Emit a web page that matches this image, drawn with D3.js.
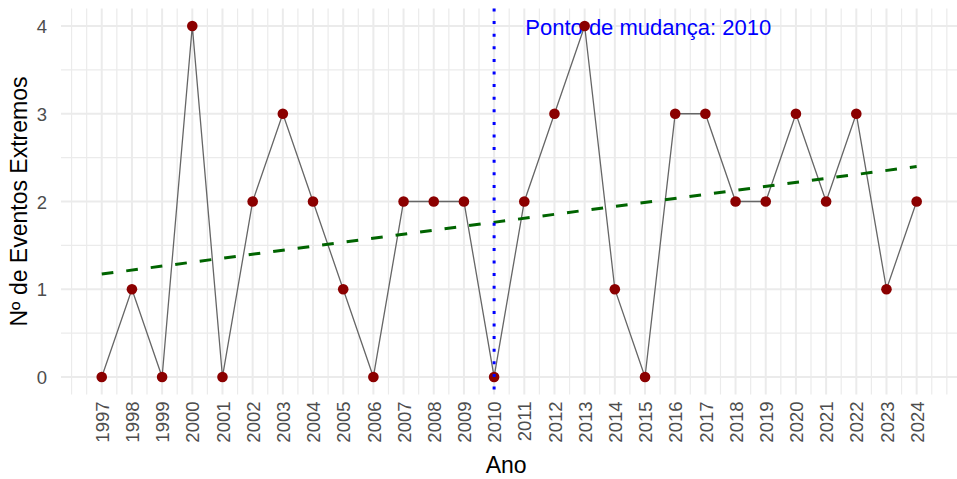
<!DOCTYPE html>
<html>
<head>
<meta charset="utf-8">
<script src="https://cdn.jsdelivr.net/npm/d3@7"></script>
<style>
  body { margin: 0; background: #fff; }
  svg { display: block; font-family: "Liberation Sans", Arial, sans-serif; }
</style>
</head>
<body>
<div id="chart"></div>
<script>
// data
var years = [1997, 1998, 1999, 2000, 2001, 2002, 2003, 2004, 2005, 2006, 2007, 2008, 2009, 2010,
             2011, 2012, 2013, 2014, 2015, 2016, 2017, 2018, 2019, 2020, 2021, 2022, 2023, 2024];
var events = [0, 1, 0, 4, 0, 2, 3, 2, 1, 0, 2, 2, 2, 0,
              2, 3, 4, 1, 0, 3, 3, 2, 2, 3, 2, 3, 1, 2];
var yTicks = [0, 1, 2, 3, 4];
var changeYear = 2010;
var changeLabel = "Ponto de mudança: 2010";

var width = 957, height = 479;

var data = years.map(function (y, i) { return { year: y, value: events[i] }; });

// ggplot-like 5% expansion
var xr = d3.extent(years), xpad = (xr[1] - xr[0]) * 0.05;
var x = d3.scaleLinear()
    .domain([xr[0] - xpad, xr[1] + xpad])
    .range([61, 957.4]);

var y = d3.scaleLinear()
    .domain([-0.2, 4.2])
    .range([394.5, 8.5]);

var svg = d3.select("#chart")
    .append("svg")
    .attr("width", width)
    .attr("height", height);

// grid: minor every half year / half unit, major at ticks
var xMinor = d3.range(Math.ceil(x.domain()[0] * 2) / 2, x.domain()[1], 0.5)
    .filter(function (v) { return !years.includes(v); });
var yMinor = [0.5, 1.5, 2.5, 3.5];

var grid = svg.append("g");
grid.selectAll(".vminor")
    .data(xMinor)
    .enter().append("line")
    .attr("x1", function (d) { return x(d); })
    .attr("x2", function (d) { return x(d); })
    .attr("y1", y.range()[1]).attr("y2", y.range()[0])
    .style("stroke", "#ebebeb").style("stroke-width", 1.2);
grid.selectAll(".hminor")
    .data(yMinor)
    .enter().append("line")
    .attr("x1", x.range()[0]).attr("x2", x.range()[1])
    .attr("y1", function (d) { return y(d); })
    .attr("y2", function (d) { return y(d); })
    .style("stroke", "#ebebeb").style("stroke-width", 1.2);
grid.selectAll(".vmajor")
    .data(years)
    .enter().append("line")
    .attr("x1", function (d) { return x(d); })
    .attr("x2", function (d) { return x(d); })
    .attr("y1", y.range()[1]).attr("y2", y.range()[0])
    .style("stroke", "#ebebeb").style("stroke-width", 2);
grid.selectAll(".hmajor")
    .data(yTicks)
    .enter().append("line")
    .attr("x1", x.range()[0]).attr("x2", x.range()[1])
    .attr("y1", function (d) { return y(d); })
    .attr("y2", function (d) { return y(d); })
    .style("stroke", "#ebebeb").style("stroke-width", 2);

// axes (text only, like theme_minimal)
var yAxis = svg.append("g")
    .attr("transform", "translate(" + (x.range()[0] - 14) + ",0)")
    .call(d3.axisLeft(y).tickValues(yTicks).tickFormat(d3.format("d")).tickSize(0).tickPadding(0));
yAxis.select(".domain").remove();
yAxis.selectAll("text")
    .style("font-family", "'Liberation Sans', Arial, sans-serif")
    .style("font-size", "18.5px")
    .style("fill", "#4d4d4d")
    .attr("dy", "0.36em");

var xAxis = svg.append("g")
    .attr("transform", "translate(0," + (y.range()[0] + 7) + ")")
    .call(d3.axisBottom(x).tickValues(years).tickFormat(d3.format("d")).tickSize(0).tickPadding(0));
xAxis.select(".domain").remove();
xAxis.selectAll("text")
    .style("font-family", "'Liberation Sans', Arial, sans-serif")
    .style("font-size", "18.5px")
    .style("fill", "#4d4d4d")
    .attr("transform", "rotate(-90)")
    .attr("text-anchor", "end")
    .attr("x", 0)
    .attr("y", 0)
    .attr("dy", "0.36em");

svg.append("text")
    .attr("x", (x.range()[0] + x.range()[1]) / 2 - 3)
    .attr("y", 473)
    .attr("text-anchor", "middle")
    .style("font-size", "23px")
    .style("fill", "#000")
    .text("Ano");

svg.append("text")
    .attr("transform", "translate(27," + ((y.range()[0] + y.range()[1]) / 2) + ") rotate(-90)")
    .attr("text-anchor", "middle")
    .style("font-size", "23px")
    .style("fill", "#000")
    .text("Nº de Eventos Extremos");

// annotation (drawn under the series)
svg.append("text")
    .attr("x", x(changeYear + 1) + 1)
    .attr("y", y(4) + 9)
    .style("font-size", "22px")
    .style("fill", "#0000ff")
    .text(changeLabel);

// series line and points
var line = d3.line()
    .x(function (d) { return x(d.year); })
    .y(function (d) { return y(d.value); });

svg.append("path")
    .datum(data)
    .attr("d", line)
    .style("fill", "none")
    .style("stroke", "#666666")
    .style("stroke-width", 1.3);

svg.selectAll(".pt")
    .data(data)
    .enter().append("circle")
    .attr("cx", function (d) { return x(d.year); })
    .attr("cy", function (d) { return y(d.value); })
    .attr("r", 5.3)
    .style("fill", "#8b0000");

// linear trend (least squares on the series)
var mx = d3.mean(years), my = d3.mean(events);
var sxy = d3.sum(years, function (v, i) { return (v - mx) * (events[i] - my); });
var sxx = d3.sum(years, function (v) { return (v - mx) * (v - mx); });
var slope = sxy / sxx, icpt = my - slope * mx;
var trend = xr.map(function (v) { return { year: v, value: icpt + slope * v }; });

svg.append("path")
    .datum(trend)
    .attr("d", line)
    .style("fill", "none")
    .style("stroke", "#006400")
    .style("stroke-width", 3)
    .style("stroke-dasharray", "11.7,13");

// change point
svg.append("line")
    .attr("x1", x(changeYear)).attr("x2", x(changeYear))
    .attr("y1", y.range()[1]).attr("y2", y.range()[0])
    .style("stroke", "#0000ff")
    .style("stroke-width", 3)
    .style("stroke-dasharray", "3,9.6");
</script>
</body>
</html>
